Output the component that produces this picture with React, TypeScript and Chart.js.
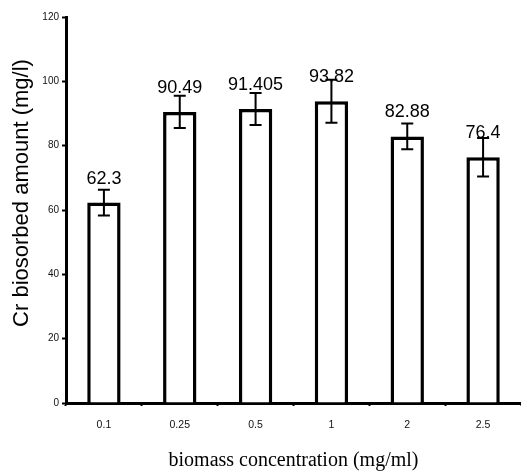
import React, { useEffect, useRef } from "react";
import { Chart, registerables } from "chart.js";

Chart.register(...registerables);

const categories = ["0.1", "0.25", "0.5", "1", "2", "2.5"];
const values = [62.3, 90.49, 91.405, 93.82, 82.88, 76.4];
const errors = [4, 5, 5, 6.7, 4, 6];
const valueLabels = ["62.3", "90.49", "91.405", "93.82", "82.88", "76.4"];
const yTicks = [0, 20, 40, 60, 80, 100, 120];
const xTitle = "biomass concentration (mg/ml)";
const yTitle = "Cr biosorbed amount (mg/l)";

const errorBarsAndLabels = {
  id: "errorBarsAndLabels",
  afterDatasetsDraw(chart: any) {
    const ctx = chart.ctx;
    const yScale = chart.scales.y;
    const meta = chart.getDatasetMeta(0);
    ctx.save();
    meta.data.forEach((bar: any, i: number) => {
      const x = bar.x;
      const yTop = yScale.getPixelForValue(values[i] + errors[i]);
      const yBot = yScale.getPixelForValue(values[i] - errors[i]);
      ctx.strokeStyle = "#000";
      ctx.lineWidth = 2;
      ctx.beginPath();
      ctx.moveTo(x, yTop);
      ctx.lineTo(x, yBot);
      ctx.moveTo(x - 6, yTop);
      ctx.lineTo(x + 6, yTop);
      ctx.moveTo(x - 6, yBot);
      ctx.lineTo(x + 6, yBot);
      ctx.stroke();
      ctx.fillStyle = "#000";
      ctx.font = '18px "Liberation Sans", Arial, sans-serif';
      ctx.textAlign = "center";
      ctx.textBaseline = "alphabetic";
      ctx.fillText(valueLabels[i], x, yScale.getPixelForValue(values[i]) - 19);
    });
    // y-axis title
    ctx.translate(22, 193);
    ctx.rotate(-Math.PI / 2);
    ctx.font = '22px "Liberation Sans", Arial, sans-serif';
    ctx.textAlign = "center";
    ctx.textBaseline = "middle";
    ctx.fillStyle = "#000";
    ctx.fillText(yTitle, 0, 0);
    ctx.restore();
  },
};

export default function App() {
  const ref = useRef<HTMLCanvasElement | null>(null);
  useEffect(() => {
    if (!ref.current) return;
    const chart = new Chart(ref.current, {
      type: "bar",
      data: {
        labels: categories,
        datasets: [
          {
            data: values,
            backgroundColor: "#ffffff",
            borderColor: "#000000",
            borderWidth: 3.5,
            barPercentage: 0.44,
            categoryPercentage: 1,
          },
        ],
      },
      options: {
        responsive: false,
        animation: false,
        layout: { padding: { top: 17, right: 0, left: 0, bottom: 0 } },
        plugins: {
          legend: { display: false },
          tooltip: { enabled: false },
        },
        scales: {
          x: {
            afterFit: (s: any) => {
              s.height = 70;
            },
            border: { display: true, color: "#000", width: 3 },
            grid: {
              display: true,
              offset: true,
              drawOnChartArea: false,
              drawTicks: true,
              tickLength: 3,
              tickWidth: 2,
              tickColor: "#000",
            },
            ticks: {
              color: "#111",
              padding: 13,
              font: { family: '"Liberation Sans", Arial, sans-serif', size: 10.5 },
            },
            title: {
              display: true,
              text: xTitle,
              color: "#000",
              font: { family: '"Liberation Serif", "Times New Roman", serif', size: 20, lineHeight: 1 },
              padding: { top: 0, bottom: 2 },
            },
          },
          y: {
            min: 0,
            max: 120,
            afterFit: (s: any) => {
              s.width = 66;
            },
            afterBuildTicks: (s: any) => {
              s.ticks = yTicks.map((v) => ({ value: v }));
            },
            border: { display: true, color: "#000", width: 3 },
            grid: {
              display: true,
              drawOnChartArea: false,
              drawTicks: true,
              tickLength: 4,
              tickWidth: 2,
              tickColor: "#000",
            },
            ticks: {
              color: "#111",
              padding: 3,
              font: { family: '"Liberation Sans", Arial, sans-serif', size: 10 },
            },
          },
        },
      },
      plugins: [errorBarsAndLabels],
    });
    return () => chart.destroy();
  }, []);
  return (
    <div style={{ position: "fixed", left: 0, top: 0, width: 521, height: 473, background: "#fff" }}>
      <canvas ref={ref} width={521} height={473} style={{ display: "block" }} />
    </div>
  );
}
